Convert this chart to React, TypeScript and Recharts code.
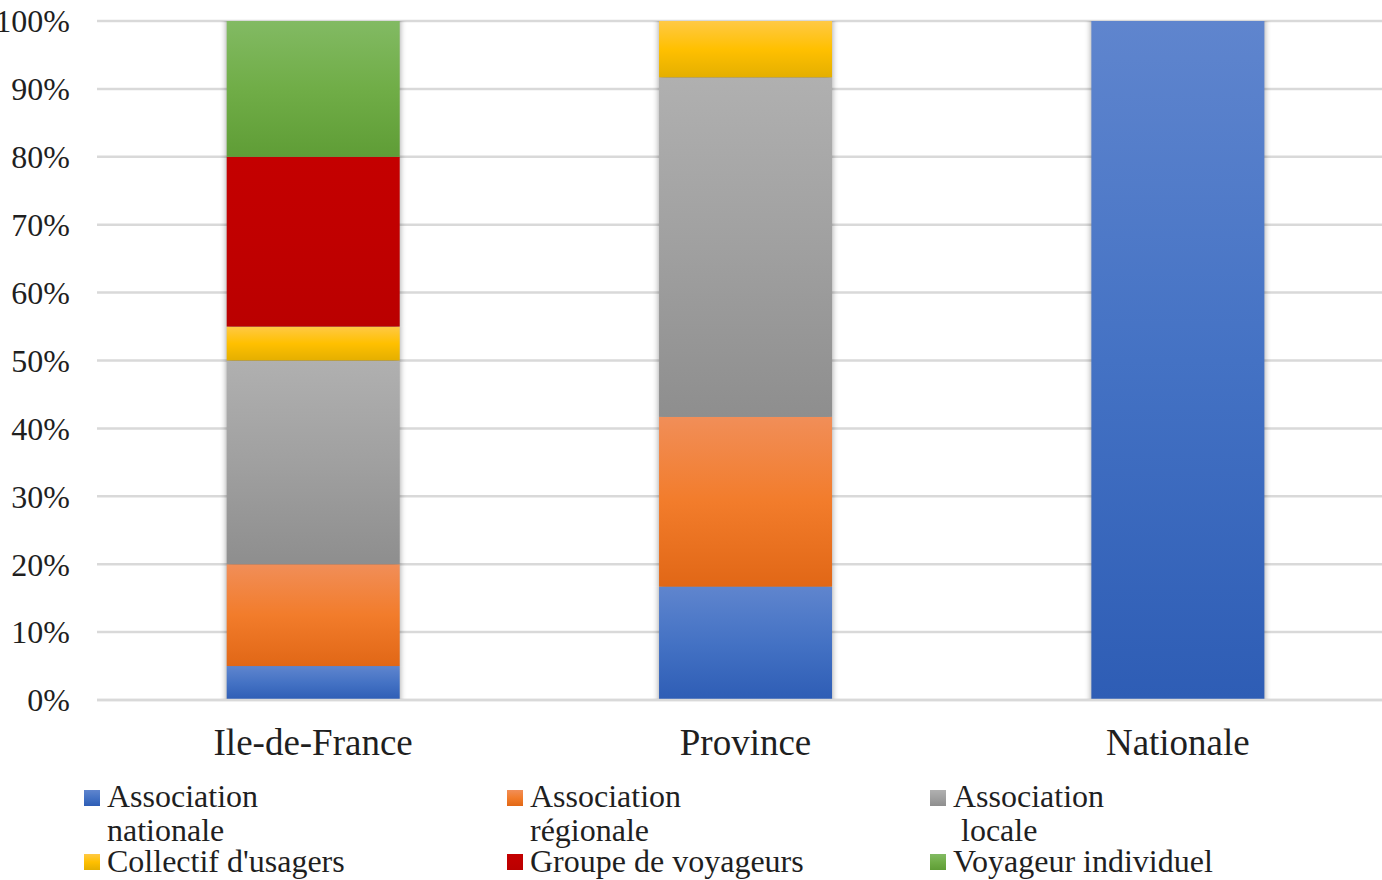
import { BarChart, Bar, XAxis, YAxis, CartesianGrid, Legend } from 'recharts'

const categories = ['Ile-de-France', 'Province', 'Nationale']
const associationNationale = [5, 16.7, 100]
const associationRegionale = [15, 25, 0]
const associationLocale = [30, 50, 0]
const collectifUsagers = [5, 8.3, 0]
const groupeVoyageurs = [25, 0, 0]
const voyageurIndividuel = [20, 0, 0]
const yTicks = [0, 10, 20, 30, 40, 50, 60, 70, 80, 90, 100]

const FONT = '"Liberation Serif", "Times New Roman", serif'
const TEXT = '#1f1f1f'
const GRID = '#d9d9d9'

// office-style fills: light top, base middle, darker bottom
const SERIES = [
  { key: 'nationale', label: 'Association\nnationale', values: associationNationale, stops: ['#5f85ce', '#4472c4', '#2e5db5'] },
  { key: 'regionale', label: 'Association\nrégionale', values: associationRegionale, stops: ['#f18e58', '#f27c2b', '#e16716'] },
  { key: 'locale', label: 'Association\n locale', values: associationLocale, stops: ['#b0b0b0', '#a0a0a0', '#8e8e8e'] },
  { key: 'collectif', label: "Collectif d'usagers", values: collectifUsagers, stops: ['#ffc945', '#ffc000', '#e4af00'] },
  { key: 'groupe', label: 'Groupe de voyageurs', values: groupeVoyageurs, stops: ['#c40000', '#c00000', '#ba0000'] },
  { key: 'voyageur', label: 'Voyageur individuel', values: voyageurIndividuel, stops: ['#82ba63', '#70ad47', '#5f9d36'] },
]

const data = categories.map((name, i) => {
  const row: Record<string, string | number> = { name }
  SERIES.forEach((s) => {
    row[s.key] = s.values[i]
  })
  return row
})

function ShadowedBar(props: any) {
  const { x, y, width, height, fill } = props
  if (!height || height <= 0) return null
  return (
    <g>
      <rect x={x} y={y} width={width} height={height} fill="#000" opacity={0.4} filter="url(#sideShadow)" />
      <rect x={x} y={y} width={width} height={height} fill={fill} />
    </g>
  )
}

// 3 columns x 2 rows, first row wraps onto two lines
function LegendGrid() {
  return (
    <div style={{ position: 'relative', width: 1382, height: 102, fontFamily: FONT, fontSize: 32, color: TEXT }}>
      {SERIES.map((s, i) => {
        const col = i % 3
        const first = i < 3
        const left = 84 + col * 423
        const top = first ? 1 : 70
        const lh = first ? 34 : 26
        return (
          <div key={s.key} style={{ position: 'absolute', left, top }}>
            <div
              style={{
                position: 'absolute',
                left: 0,
                top: first ? 11 : 6,
                width: 16,
                height: 16,
                background: `linear-gradient(${s.stops[0]}, ${s.stops[1]}, ${s.stops[2]})`,
              }}
            />
            <div style={{ position: 'absolute', left: 23, top: 0, lineHeight: `${lh}px`, whiteSpace: 'pre' }}>{s.label}</div>
          </div>
        )
      })}
    </div>
  )
}

export default function App() {
  return (
    <div style={{ position: 'fixed', left: 0, top: 0, width: 1382, height: 880, overflow: 'hidden', background: '#fff' }}>
      <BarChart
        width={1400}
        height={880}
        data={data}
        margin={{ top: 21, right: 6, bottom: 0, left: 0 }}
        barCategoryGap="30%"
      >
        <defs>
          <filter id="sideShadow" x="-10%" y="-10%" width="120%" height="120%">
            <feGaussianBlur stdDeviation="3 0" />
          </filter>
          {SERIES.map((s) => (
            <linearGradient key={s.key} id={`grad-${s.key}`} x1="0" y1="0" x2="0" y2="1">
              <stop offset="0%" stopColor={s.stops[0]} />
              <stop offset="50%" stopColor={s.stops[1]} />
              <stop offset="100%" stopColor={s.stops[2]} />
            </linearGradient>
          ))}
        </defs>
        <CartesianGrid vertical={false} stroke={GRID} strokeWidth={2.5} />
        <XAxis
          dataKey="name"
          height={78}
          tickLine={false}
          tickSize={0}
          tickMargin={29}
          axisLine={{ stroke: GRID, strokeWidth: 2.5 }}
          tick={{ fontFamily: FONT, fontSize: 37, fill: TEXT }}
        />
        <YAxis
          width={97}
          domain={[0, 100]}
          ticks={yTicks}
          tickFormatter={(v) => `${v}%`}
          axisLine={false}
          tickLine={false}
          tickSize={0}
          tickMargin={27}
          tick={{ fontFamily: FONT, fontSize: 32, fill: TEXT }}
        />
        <Legend verticalAlign="bottom" align="left" content={() => <LegendGrid />} />
        {SERIES.map((s) => (
          <Bar
            key={s.key}
            dataKey={s.key}
            name={s.label}
            stackId="a"
            fill={`url(#grad-${s.key})`}
            shape={<ShadowedBar />}
            isAnimationActive={false}
          />
        ))}
      </BarChart>
    </div>
  )
}
